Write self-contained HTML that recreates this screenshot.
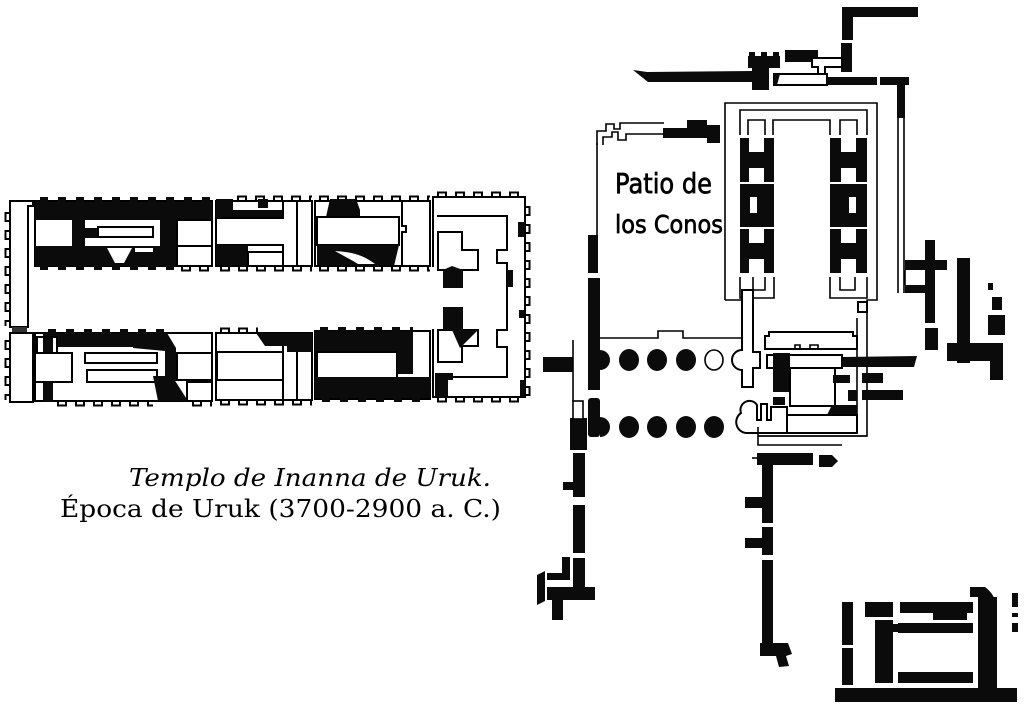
<!DOCTYPE html>
<html>
<head>
<meta charset="utf-8">
<style>
html,body{margin:0;padding:0;background:#fff;}
svg{display:block;}
.o{fill:#fff;stroke:#000;stroke-width:2}
.l{fill:none;stroke:#000;stroke-width:2}
.t{fill:none;stroke:#000;stroke-width:1.6}
.k{fill:#0b0b0b}
</style>
</head>
<body>
<svg width="1024" height="706" viewBox="0 0 1024 706" xmlns="http://www.w3.org/2000/svg">
<defs>
<pattern id="cT" width="18" height="10" patternUnits="userSpaceOnUse"><path d="M0,7H5V2.5H13V7H18" fill="none" stroke="#000" stroke-width="2"/></pattern>
<pattern id="cB" width="18" height="10" patternUnits="userSpaceOnUse"><path d="M0,3H5V7.5H13V3H18" fill="none" stroke="#000" stroke-width="2"/></pattern>
<pattern id="cL" width="10" height="18" patternUnits="userSpaceOnUse"><path d="M7,0V5H2.5V13H7V18" fill="none" stroke="#000" stroke-width="2"/></pattern>
<pattern id="cR" width="10" height="18" patternUnits="userSpaceOnUse"><path d="M3,0V5H7.5V13H3V18" fill="none" stroke="#000" stroke-width="2"/></pattern>
<pattern id="bT" width="18" height="6" patternUnits="userSpaceOnUse"><rect x="5" y="0" width="8" height="6" fill="#0b0b0b"/></pattern>
</defs>

<!-- ============ LEFT TEMPLE ============ -->
<path class="o" d="M10,201H33V206H28V327H10Z"/>
<g transform="translate(3,208)"><rect width="10" height="118" fill="url(#cL)"/></g>
<rect x="12" y="327" width="15" height="6" fill="#333"/>
<path class="o" d="M10,333H33V402H10Z"/>
<g transform="translate(3,336)"><rect width="10" height="64" fill="url(#cL)"/></g>

<!-- upper section 1 -->
<rect class="o" x="35" y="201" width="177" height="65"/>
<rect class="k" x="35" y="202" width="177" height="18"/>
<g transform="translate(35,197)"><rect width="177" height="5" fill="url(#bT)"/></g>
<rect class="k" x="72" y="220" width="13" height="26"/>
<rect class="k" x="85" y="228" width="14" height="10"/>
<rect class="o" x="98" y="227" width="55" height="10"/>
<rect class="k" x="160" y="220" width="17" height="26"/>
<rect class="l" x="177" y="220" width="35" height="26"/>
<rect class="k" x="35" y="246" width="142" height="20"/>
<path fill="#fff" d="M107,248H132L124,263H115Z"/>
<rect fill="#fff" x="135" y="248" width="18" height="4"/>
<rect class="o" x="177" y="246" width="35" height="20"/>
<g transform="translate(35,265)"><rect width="142" height="5" fill="url(#bT)"/></g>
<g transform="translate(177,263)"><rect width="35" height="10" fill="url(#cB)"/></g>

<!-- upper section 2 -->
<rect class="o" x="216" y="201" width="96" height="65"/>
<g transform="translate(233,194)"><rect width="79" height="10" fill="url(#cT)"/></g>
<rect class="k" x="216" y="199" width="17" height="19"/>
<rect class="k" x="233" y="210" width="50" height="8"/>
<rect class="k" x="258" y="199" width="10" height="9"/>
<path class="o" d="M216,218H283V201H297V266H283V245H216Z"/>
<path class="l" d="M297,201V266"/>
<rect class="k" x="216" y="245" width="32" height="21"/>
<rect class="o" x="248" y="252" width="35" height="14"/>
<g transform="translate(216,263)"><rect width="96" height="10" fill="url(#cB)"/></g>

<!-- upper section 3 -->
<rect class="o" x="315" y="201" width="115" height="65"/>
<g transform="translate(315,194)"><rect width="115" height="10" fill="url(#cT)"/></g>
<path class="k" d="M330,199H356L360,210V217H326Z"/>
<rect class="o" x="317" y="217" width="82" height="28"/>
<path class="k" d="M317,245H399L394,266H317Z"/>
<path fill="#fff" d="M335,251C350,252 362,254 375,264H358C350,259 342,255 335,251Z"/>
<path class="l" d="M402,201V226H406V232H402V266"/>
<g transform="translate(315,263)"><rect width="115" height="10" fill="url(#cB)"/></g>

<!-- right end -->
<path class="o" d="M433,267V197H525V397H433V329"/>
<g transform="translate(433,190)"><rect width="92" height="10" fill="url(#cT)"/></g>
<g transform="translate(522,202)"><rect width="10" height="194" fill="url(#cR)"/></g>
<g transform="translate(433,394)"><rect width="92" height="10" fill="url(#cB)"/></g>
<path class="l" d="M437,216H507V250H497V263H507V330H497V347H507V377H437"/>
<path class="o" d="M438,232H462V250H478V270H438Z"/>
<path class="k" d="M443,270L452,266L463,270V288H443Z"/>
<path class="o" d="M438,330H478V346H462V362H438Z"/>
<rect class="k" x="443" y="307" width="20" height="23"/>
<path class="k" d="M452,330H478L460,348Z"/>
<rect class="k" x="518" y="222" width="7" height="15"/>
<rect class="k" x="507" y="270" width="6" height="17"/>
<rect class="k" x="519" y="310" width="5" height="8"/>
<rect class="k" x="520" y="380" width="5" height="17"/>
<path class="k" d="M435,373H453V380H448V397H435Z"/>

<!-- lower section 1 -->
<rect class="o" x="35" y="333" width="177" height="68"/>
<rect class="k" x="43" y="333" width="124" height="14"/>
<g transform="translate(43,329)"><rect width="124" height="5" fill="url(#bT)"/></g>
<rect class="o" x="37" y="337" width="20" height="16"/>
<rect class="k" x="43" y="338" width="10" height="15"/>
<path class="k" d="M133,333H167L176,348V381H165V351L133,348Z"/>
<path class="l" d="M35,353H72V382H35"/>
<rect class="o" x="85" y="353" width="72" height="10"/>
<rect class="o" x="87" y="370" width="70" height="12"/>
<rect class="k" x="43" y="383" width="10" height="19"/>
<path class="k" d="M153,376H172L188,401H158Z"/>
<rect class="o" x="177" y="353" width="35" height="27"/>
<rect class="l" x="187" y="382" width="25" height="19"/>
<g transform="translate(53,398)"><rect width="100" height="10" fill="url(#cB)"/></g>
<g transform="translate(188,398)"><rect width="24" height="10" fill="url(#cB)"/></g>

<!-- lower section 2 -->
<rect class="o" x="216" y="333" width="96" height="67"/>
<g transform="translate(216,326)"><rect width="42" height="10" fill="url(#cT)"/></g>
<path class="k" d="M256,333H312V352H287V346H265Z"/>
<rect class="o" x="217" y="352" width="66" height="28"/>
<path class="l" d="M283,346V400M297,352V400"/>
<g transform="translate(216,397)"><rect width="96" height="10" fill="url(#cB)"/></g>

<!-- lower section 3 -->
<rect class="o" x="315" y="331" width="115" height="68"/>
<rect class="k" x="315" y="331" width="98" height="21"/>
<g transform="translate(315,327)"><rect width="98" height="5" fill="url(#bT)"/></g>
<rect class="o" x="317" y="352" width="80" height="27"/>
<rect class="k" x="397" y="352" width="16" height="22"/>
<rect class="k" x="315" y="377" width="115" height="21"/>
<g transform="translate(317,397)"><rect width="113" height="5" fill="url(#bT)"/></g>

<!-- caption -->
<text x="129" y="486" font-family="'DejaVu Serif', serif" font-style="italic" font-size="24" textLength="362" lengthAdjust="spacingAndGlyphs">Templo de Inanna de Uruk.</text>
<text x="60" y="517" font-family="'DejaVu Serif', serif" font-size="24" textLength="441" lengthAdjust="spacingAndGlyphs">Época de Uruk (3700-2900 a. C.)</text>

<!-- ============ RIGHT PLAN ============ -->
<rect class="k" x="842" y="7" width="76" height="10"/>
<rect class="k" x="842" y="7" width="11" height="33"/>
<rect class="k" x="841" y="43" width="11" height="29"/>
<rect class="k" x="785" y="50" width="33" height="12"/>
<path class="o" d="M812,58H842V67H825V80H818V67H812Z"/>
<rect class="k" x="748" y="56" width="32" height="12"/>
<rect class="k" x="749" y="52" width="6" height="5"/>
<rect class="k" x="761" y="52" width="6" height="5"/>
<rect class="k" x="773" y="52" width="6" height="5"/>
<rect class="k" x="752" y="68" width="17" height="22"/>
<path class="k" d="M633,70L647,72L752,71V82H648Z"/>
<rect class="o" x="774" y="74" width="53" height="11"/>
<path class="k" d="M774,74H780L777,85H774Z"/>
<rect class="k" x="827" y="77" width="50" height="8"/>
<rect class="k" x="880" y="77" width="29" height="8"/>
<rect class="k" x="897" y="85" width="8" height="33"/>
<path class="t" d="M898,118V293M904,118V293"/>

<!-- temple outlines -->
<path class="t" d="M725,300V103H877V300H867V436H758"/>
<path class="t" d="M740,135V110H867V135"/>
<path class="t" d="M748,135V120H765V135M773,135V120H830V135M840,135V120H857V135"/>

<!-- H columns -->
<rect class="k" x="740" y="138" width="34" height="44"/>
<rect class="k" x="740" y="184" width="34" height="43"/>
<rect class="k" x="740" y="229" width="34" height="44"/>
<rect fill="#fff" x="749" y="138" width="15" height="14"/>
<rect fill="#fff" x="749" y="168" width="15" height="14"/>
<rect fill="#fff" x="750" y="197" width="7" height="16"/>
<rect fill="#fff" x="749" y="229" width="15" height="14"/>
<rect fill="#fff" x="749" y="259" width="15" height="14"/>
<rect class="k" x="830" y="138" width="37" height="44"/>
<rect class="k" x="830" y="184" width="37" height="43"/>
<rect class="k" x="830" y="229" width="37" height="44"/>
<rect fill="#fff" x="841" y="138" width="15" height="14"/>
<rect fill="#fff" x="841" y="168" width="15" height="14"/>
<rect fill="#fff" x="849" y="197" width="7" height="16"/>
<rect fill="#fff" x="841" y="229" width="15" height="14"/>
<rect fill="#fff" x="841" y="259" width="15" height="14"/>
<path class="t" d="M740,277V298H774V277M753,277V290H765V277M830,277V298H867V277M840,277V290H855V277"/>
<path class="t" d="M725,300H742"/>
<rect class="o" x="858" y="302" width="9" height="10"/>

<!-- patio -->
<path class="t" d="M597,143V235"/>
<path class="t" d="M597,145V131H606V124H614V129H620V123H664M603,145V137H612V132H618V140H626V134H665"/>
<path class="k" d="M663,128H687V120H707V125H720V143H707V138H663Z"/>
<rect class="k" x="588" y="235" width="10" height="38"/>
<rect class="k" x="588" y="278" width="12" height="112"/>
<path class="k" d="M600,350A10,10 0 0 1 600,370Z"/>
<text x="615" y="193" font-family="'DejaVu Sans', sans-serif" font-size="28" stroke="#000" stroke-width="0.7" textLength="97" lengthAdjust="spacingAndGlyphs">Patio de</text>
<text x="615" y="233" font-family="'DejaVu Sans', sans-serif" font-size="25" stroke="#000" stroke-width="0.7" textLength="108" lengthAdjust="spacingAndGlyphs">los Conos</text>

<!-- colonnade -->
<rect class="k" x="543" y="357" width="30" height="15"/>
<path class="t" d="M573,340V402"/>
<path class="t" d="M600,338H658V331H683V338H742"/>
<ellipse class="k" cx="629" cy="360" rx="10" ry="11"/>
<ellipse class="k" cx="657" cy="360" rx="10" ry="11"/>
<ellipse class="k" cx="686" cy="360" rx="10" ry="11"/>
<ellipse class="o" cx="714" cy="360" rx="9" ry="10" style="stroke-width:1.6"/>
<rect class="k" x="588" y="398" width="12" height="39" rx="3"/>
<path class="k" d="M600,417A10,10 0 0 1 600,437Z"/>
<rect class="k" x="570" y="418" width="17" height="32"/>
<rect class="o" x="573" y="401" width="10" height="18" style="stroke-width:1.6"/>
<ellipse class="k" cx="629" cy="427" rx="10" ry="11"/>
<ellipse class="k" cx="657" cy="427" rx="10" ry="11"/>
<ellipse class="k" cx="686" cy="427" rx="10" ry="11"/>
<ellipse class="k" cx="714" cy="427" rx="10" ry="11"/>

<!-- central complex -->
<path class="o" d="M742,290H753V352H760V368H753V387H742V370A10,10 0 0 1 742,350Z"/>
<path class="o" d="M765,349V336H769V332H853V336H857V349Z"/>
<path class="t" d="M795,349V345H800V349M810,349V345H818V349"/>
<rect class="o" x="767" y="355" width="75" height="13"/>
<rect class="k" x="773" y="353" width="17" height="39"/>
<rect class="o" x="790" y="368" width="45" height="38"/>
<path class="t" d="M857,318V433"/>
<path class="k" d="M843,357L917,356L914,367H843Z"/>
<rect class="k" x="833" y="375" width="17" height="8"/>
<rect class="k" x="862" y="373" width="21" height="10"/>
<rect class="k" x="848" y="390" width="9" height="11"/>
<rect class="k" x="862" y="390" width="41" height="10"/>
<rect class="k" x="773" y="397" width="12" height="8"/>
<path class="k" d="M832,405H857V415H827Z"/>
<rect class="o" x="787" y="415" width="70" height="18"/>
<path class="o" d="M787,433H746A11,11 0 0 1 741,413A9,9 0 0 1 757,405V420H761V404H767V420H771V407H787Z"/>
<path class="t" d="M758,427V445H842M758,436H867"/>

<!-- lower wall -->
<rect class="k" x="757" y="453" width="56" height="12"/>
<path class="t" d="M752,458H757"/>
<path class="k" d="M819,455H832L838,461L832,467H819Z"/>
<rect class="k" x="762" y="465" width="11" height="58"/>
<rect class="k" x="762" y="527" width="11" height="28"/>
<rect class="k" x="762" y="560" width="11" height="85"/>
<rect class="k" x="745" y="497" width="18" height="11"/>
<rect class="k" x="745" y="538" width="18" height="10"/>
<path class="k" d="M760,643H788L792,654L786,656L789,666L779,667L776,656H760Z"/>

<!-- left lower wall -->
<rect class="k" x="573" y="453" width="12" height="44"/>
<rect class="k" x="563" y="482" width="10" height="8"/>
<rect class="k" x="573" y="505" width="12" height="48"/>
<rect class="k" x="573" y="558" width="12" height="42"/>
<rect class="k" x="562" y="557" width="8" height="23"/>
<rect class="k" x="547" y="573" width="23" height="7"/>
<rect class="k" x="547" y="587" width="48" height="13"/>
<rect class="k" x="552" y="600" width="11" height="20"/>
<path class="k" d="M537,575L545,571V601L537,605Z"/>

<!-- right side blacks -->
<rect class="k" x="925" y="240" width="10" height="83"/>
<rect class="k" x="905" y="260" width="42" height="10"/>
<rect class="k" x="905" y="285" width="20" height="8"/>
<path class="t" d="M905,270V285"/>
<rect class="k" x="957" y="258" width="13" height="105"/>
<rect class="k" x="988" y="283" width="5" height="7"/>
<rect class="k" x="992" y="297" width="10" height="13"/>
<rect class="k" x="988" y="315" width="17" height="20"/>
<rect class="k" x="925" y="328" width="13" height="22"/>
<rect class="k" x="947" y="343" width="56" height="18"/>
<rect class="k" x="990" y="343" width="13" height="37"/>

<!-- bottom-right building -->
<rect class="k" x="842" y="602" width="11" height="43"/>
<rect class="k" x="842" y="648" width="11" height="37"/>
<rect class="k" x="835" y="688" width="182" height="14"/>
<rect class="k" x="865" y="602" width="28" height="15"/>
<rect class="k" x="900" y="602" width="73" height="11"/>
<rect class="k" x="933" y="610" width="34" height="10"/>
<rect class="k" x="875" y="620" width="18" height="63"/>
<rect class="k" x="893" y="624" width="6" height="8"/>
<rect class="k" x="898" y="623" width="75" height="10"/>
<rect class="k" x="898" y="672" width="75" height="11"/>
<rect class="k" x="978" y="597" width="19" height="93"/>
<path class="k" d="M970,587H985Q992,592 995,600V610H985V597H970Z"/>
<rect class="k" x="1012" y="593" width="6" height="14"/>
<rect class="k" x="1012" y="613" width="6" height="4"/>
<rect class="k" x="1012" y="623" width="6" height="9"/>
</svg>
</body>
</html>
